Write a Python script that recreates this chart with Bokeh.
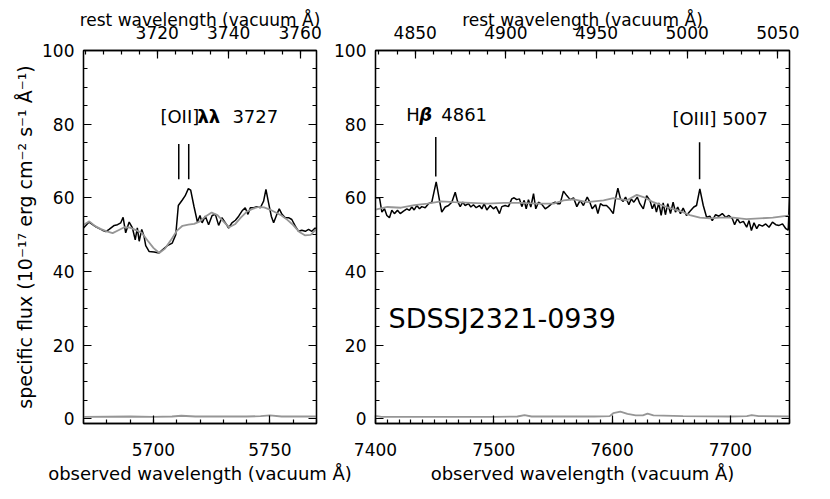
from bokeh.plotting import figure
from bokeh.models import Range1d, LinearAxis, FixedTicker
from bokeh.layouts import row
from bokeh.embed import file_html
from bokeh.resources import INLINE
from bokeh.core.properties import value

ONE_PLUS_Z = 1.5327

# ---------------- left panel: [OII] region ----------------
oii_wave = [5670.0, 5672.4, 5673.8, 5675.3, 5678.1, 5679.6, 5681.0, 5683.2, 5684.6, 5686.0,
            5687.0, 5688.1, 5689.6, 5691.0, 5692.2, 5693.1, 5693.9, 5695.0, 5696.0, 5696.7,
            5698.2, 5700.3, 5702.4, 5703.9, 5706.0, 5708.1, 5709.6, 5710.7, 5712.4, 5713.6,
            5715.0, 5716.0, 5717.4, 5718.9, 5720.0, 5720.9, 5722.3, 5723.7, 5725.2, 5726.6,
            5728.0, 5729.4, 5730.9, 5732.3, 5733.7, 5735.2, 5736.6, 5738.0, 5739.4, 5740.6,
            5741.6, 5743.0, 5744.5, 5745.9, 5747.3, 5748.3, 5749.4, 5750.6, 5751.6, 5753.0,
            5754.0, 5755.2, 5756.6, 5758.0, 5759.4, 5760.9, 5762.3, 5763.7, 5765.2, 5766.6,
            5768.0, 5769.4, 5770.0]
oii_flux = [51.8, 53.4, 52.8, 52.1, 51.2, 50.8, 51.4, 52.5, 52.7, 53.2,
            54.7, 50.5, 53.4, 51.8, 48.6, 51.8, 48.2, 51.4, 49.5, 47.0,
            45.4, 45.3, 45.0, 45.9, 47.0, 47.7, 50.0, 57.9, 59.4, 60.5,
            62.5, 62.1, 57.7, 53.4, 55.2, 53.2, 55.0, 52.7, 55.2, 55.5,
            52.5, 54.6, 53.2, 51.8, 53.2, 53.9, 55.0, 56.4, 57.3, 55.5,
            57.3, 57.3, 57.6, 57.3, 59.1, 62.3, 58.7, 55.0, 53.2, 55.5,
            57.0, 55.5, 54.6, 54.6, 54.1, 52.3, 50.9, 51.2, 50.9, 51.4,
            50.9, 51.8, 51.5]
oii_model_wave = [5670.0, 5672.5, 5675.0, 5677.5, 5680.0, 5682.5, 5685.0, 5687.5, 5690.0, 5692.5,
                  5695.0, 5697.5, 5700.0, 5702.5, 5705.0, 5707.5, 5710.0, 5712.5, 5715.0, 5717.5,
                  5720.0, 5722.5, 5725.0, 5727.5, 5730.0, 5732.5, 5735.0, 5737.5, 5740.0, 5742.5,
                  5745.0, 5747.5, 5750.0, 5752.5, 5755.0, 5757.5, 5760.0, 5762.5, 5765.0, 5767.5,
                  5770.0]
oii_model = [52.6, 53.6, 52.3, 51.5, 50.9, 50.4, 51.2, 52.0, 51.9, 51.2,
             50.5, 48.4, 46.4, 45.0, 46.2, 48.5, 51.0, 52.4, 52.7, 52.9,
             53.6, 55.0, 56.0, 55.3, 53.6, 52.0, 52.8, 54.6, 56.2, 57.0,
             57.5, 57.4, 56.8, 56.0, 55.2, 54.0, 52.6, 50.8, 49.8, 49.9,
             51.5]
oii_err_wave = [5670, 5690, 5700, 5708, 5712, 5718, 5740, 5746, 5750, 5755, 5770]
oii_err = [0.5, 0.6, 0.5, 0.6, 0.8, 0.6, 0.6, 0.7, 0.9, 0.6, 0.6]

# ---------------- right panel: Hbeta / [OIII] region ----------------
hb_wave = [7399.7, 7403.4, 7405.4, 7407.6, 7409.6, 7411.8, 7413.8, 7416.0, 7418.6, 7420.9,
           7423.7, 7426.5, 7428.7, 7430.7, 7432.7, 7434.9, 7437.2, 7439.1, 7442.0, 7444.8,
           7447.6, 7451.3, 7454.1, 7456.0, 7458.9, 7461.7, 7464.5, 7467.4, 7469.3, 7471.6,
           7473.8, 7475.8, 7478.6, 7480.6, 7482.8, 7485.1, 7487.9, 7489.9, 7491.9, 7494.1,
           7497.0, 7499.7, 7502.0, 7504.8, 7506.8, 7509.6, 7512.4, 7515.2, 7517.2, 7519.4,
           7521.7, 7523.7, 7525.7, 7527.4, 7529.3, 7531.3, 7533.6, 7535.5, 7537.8, 7540.6,
           7543.5, 7546.2, 7549.0, 7551.9, 7553.8, 7556.1, 7558.9, 7561.7, 7564.6, 7567.4,
           7570.2, 7573.0, 7575.8, 7579.0, 7581.2, 7583.2, 7586.0, 7588.0, 7590.2, 7592.5,
           7595.3, 7598.1, 7601.0, 7602.9, 7604.9, 7607.1, 7609.4, 7611.4, 7614.2, 7616.2,
           7618.4, 7621.3, 7623.5, 7626.4, 7629.2, 7632.0, 7634.0, 7635.8, 7637.5, 7639.5,
           7641.5, 7643.2, 7645.1, 7647.1, 7649.4, 7651.6, 7653.6, 7655.5, 7657.8, 7660.1,
           7662.9, 7665.7, 7669.1, 7671.4, 7674.2, 7677.1, 7679.9, 7682.7, 7684.7, 7687.5,
           7690.3, 7693.2, 7696.0, 7698.8, 7701.7, 7703.6, 7705.9, 7708.1, 7711.0, 7713.8,
           7715.8, 7717.8, 7720.0, 7722.3, 7724.2, 7727.1, 7729.9, 7732.7, 7735.6, 7738.4,
           7741.2, 7744.1, 7746.9, 7748.9, 7750.0]
hb_flux = [60.0, 60.0, 56.1, 57.0, 55.2, 54.6, 56.6, 55.7, 56.6, 55.7,
           56.4, 57.0, 56.6, 57.5, 56.7, 57.9, 57.0, 57.6, 57.3, 58.4,
           58.8, 64.3, 59.3, 56.1, 57.5, 57.9, 58.8, 61.5, 59.1, 57.6,
           58.8, 57.9, 58.4, 57.5, 58.1, 57.3, 57.9, 57.0, 58.4, 56.7,
           57.9, 57.0, 57.6, 55.7, 57.6, 57.9, 57.6, 59.7, 60.0, 59.5,
           59.7, 57.6, 59.3, 57.0, 59.5, 57.5, 61.1, 57.0, 58.8, 58.2,
           57.0, 57.6, 58.4, 58.8, 58.4, 58.4, 61.8, 60.6, 59.5, 60.0,
           57.6, 59.3, 57.9, 60.2, 58.8, 57.0, 58.1, 55.7, 58.4, 57.9,
           57.9, 57.0, 55.7, 59.7, 62.6, 59.7, 59.0, 60.2, 58.1, 59.7,
           58.8, 60.2, 58.4, 57.0, 60.6, 59.3, 57.0, 58.4, 56.1, 58.6,
           55.2, 58.6, 55.4, 58.4, 55.7, 58.8, 56.1, 57.5, 55.7, 57.2,
           55.2, 56.3, 57.5, 57.9, 62.4, 57.9, 54.7, 55.0, 53.8, 55.4,
           55.0, 55.7, 54.7, 55.2, 54.3, 52.7, 54.3, 53.2, 53.6, 52.0,
           53.8, 51.1, 53.2, 51.6, 52.7, 52.3, 52.9, 52.0, 53.4, 52.7,
           52.5, 52.9, 51.6, 51.2, 60.0]
hb_model_wave = [7400.0, 7410.0, 7421.6, 7432.8, 7444.0, 7455.3, 7466.5, 7480.6, 7494.6, 7508.6,
                 7522.6, 7536.7, 7550.7, 7559.0, 7567.6, 7578.8, 7592.8, 7601.2, 7612.5, 7620.9,
                 7626.5, 7634.9, 7646.1, 7657.4, 7665.8, 7674.2, 7682.6, 7691.0, 7702.3, 7713.5,
                 7724.7, 7735.9, 7747.2, 7750.0]
hb_model = [56.8, 57.5, 57.3, 58.0, 58.4, 59.0, 58.8, 58.6, 58.4, 58.6,
            58.6, 58.4, 58.4, 59.3, 59.6, 58.8, 59.3, 59.9, 59.3, 60.8,
            60.2, 58.8, 57.5, 56.4, 55.3, 54.6, 54.4, 54.6, 54.6, 54.2,
            54.4, 54.6, 55.1, 55.2]
hb_err_wave = [7400, 7405, 7450, 7500, 7520, 7526, 7532, 7560, 7585, 7598, 7601, 7607,
               7613, 7620, 7626, 7630, 7635, 7660, 7700, 7714, 7718, 7724, 7750]
hb_err = [0.8, 0.5, 0.5, 0.5, 0.6, 1.0, 0.6, 0.6, 0.6, 0.7, 1.5, 1.9,
          1.3, 0.9, 0.9, 1.4, 0.9, 0.7, 0.6, 0.7, 1.0, 0.7, 0.6]

# ---------------- annotations ----------------
oii_rest = [3726.03, 3728.82]
hb_rest = [4861.33]
oiii_rest = [5006.84]
mark_lo = [65.0, 65.8, 65.0]
mark_hi = [74.6, 76.5, 75.1]
# label pieces: (text, pixel offset from label start, font style)
oii_label = [("[OII]", 0, "normal"), ("λλ", 37, "bold"), ("3727", 72, "normal")]
hb_label = [("H", 0, "normal"), ("β", 13, "bold italic"), ("4861", 35, "normal")]
oiii_label = [("[OIII] 5007", 0, "normal")]
label_x = [5703.0, 7426.0, 7651.0]
label_y = [82.0, 82.6, 81.6]
object_name = "SDSSJ2321-0939"
object_x = 7411.0
object_y = 27.3

# ticks
left_xticks = [5700, 5750]
left_xminor = [5670, 5680, 5690, 5700, 5710, 5720, 5730, 5740, 5750, 5760, 5770]
left_rest_ticks = [3720, 3740, 3760]
left_rest_minor = [3700, 3705, 3710, 3715, 3720, 3725, 3730, 3735, 3740, 3745, 3750, 3755, 3760]
right_xticks = [7400, 7500, 7600, 7700]
right_xminor = [7400 + 10 * i for i in range(36)]
right_rest_ticks = [4850, 4900, 4950, 5000, 5050]
right_rest_minor = [4830 + 10 * i for i in range(23)]
yticks = [0, 20, 40, 60, 80, 100]
yminor = [5 * i for i in range(21)]

FONT = "DejaVu Sans"
BLACK = "black"
GRAY = "#969696"


def style(ax, show_labels=True):
    ax.major_tick_in = 8
    ax.major_tick_out = 0
    ax.minor_tick_in = 4
    ax.minor_tick_out = 0
    ax.axis_line_color = BLACK
    ax.axis_line_width = 1.3
    ax.major_tick_line_color = BLACK
    ax.minor_tick_line_color = BLACK
    ax.major_tick_line_width = 1.2
    ax.minor_tick_line_width = 1.2
    ax.major_label_text_font = FONT
    ax.major_label_text_color = BLACK
    ax.major_label_text_font_size = "17px"
    if not show_labels:
        ax.major_label_overrides = {t: "" for t in yticks}
    ax.axis_label_text_font = FONT
    ax.axis_label_text_font_size = "18px"
    ax.axis_label_text_font_style = "normal"
    ax.axis_label_text_color = BLACK


def make_panel(xr, xt, xm, rt, rm, fw, bl, br, ylabel, transparent=False):
    p = figure(x_range=Range1d(*xr), y_range=Range1d(-1.3, 100),
               frame_width=fw, frame_height=373,
               min_border_left=bl, min_border_right=br,
               min_border_top=50, min_border_bottom=60,
               output_backend="svg", toolbar_location=None,
               background_fill_color="white",
               border_fill_color=None if transparent else "white")
    p.xgrid.visible = False
    p.ygrid.visible = False
    p.outline_line_color = BLACK
    p.outline_line_width = 1.3

    xa = p.xaxis[0]
    xa.ticker = FixedTicker(ticks=xt, minor_ticks=xm)
    xa.axis_label = "observed wavelength (vacuum Å)"
    style(xa)
    xa.major_label_standoff = 19
    xa.axis_label_standoff = 4

    ya = p.yaxis[0]
    ya.ticker = FixedTicker(ticks=yticks, minor_ticks=yminor)
    style(ya)
    ya.major_label_standoff = 9
    if ylabel:
        ya.axis_label = ylabel
        ya.axis_label_text_font_size = "19px"
        ya.axis_label_standoff = 3

    yr = LinearAxis(ticker=FixedTicker(ticks=yticks, minor_ticks=yminor))
    style(yr, show_labels=False)
    yr.major_label_standoff = 0
    p.add_layout(yr, "right")

    p.extra_x_ranges = {"rest": Range1d(xr[0] / ONE_PLUS_Z, xr[1] / ONE_PLUS_Z)}
    top = LinearAxis(x_range_name="rest", ticker=FixedTicker(ticks=rt, minor_ticks=rm),
                     axis_label="rest wavelength (vacuum Å)")
    style(top)
    top.axis_label_text_font_size = "17px"
    top.major_label_standoff = 12
    top.axis_label_standoff = -7
    p.add_layout(top, "above")
    return p


def add_label(p, pieces, x, y):
    for txt, off, style_name in pieces:
        p.text(x=[x], y=[y], text=[txt], x_offset=off,
               text_font=value(FONT), text_font_size=value("18px"),
               text_font_style=style_name,
               text_align="left", text_baseline="alphabetic", text_color=BLACK)


left = make_panel((5670, 5770), left_xticks, left_xminor, left_rest_ticks, left_rest_minor,
                  233, 83, 40,
                  "specific flux (10⁻¹⁷ erg cm⁻² s⁻¹ Å⁻¹)")
right = make_panel((7400, 7750), right_xticks, right_xminor, right_rest_ticks, right_rest_minor,
                   414, 49, 20, None, transparent=True)
right.margin = (0, 0, 0, -30)

# left panel lines
left.line(oii_wave, oii_flux, line_color=BLACK, line_width=1.5)
left.line(oii_model_wave, oii_model, line_color=GRAY, line_width=1.8)
left.line(oii_err_wave, oii_err, line_color=GRAY, line_width=1.8)
oii_obs = [w * ONE_PLUS_Z for w in oii_rest]
left.segment(x0=oii_obs, y0=[mark_lo[0]] * 2, x1=oii_obs, y1=[mark_hi[0]] * 2,
             line_color=BLACK, line_width=1.5)
add_label(left, oii_label, label_x[0], label_y[0])

# right panel lines
right.line(hb_wave, hb_flux, line_color=BLACK, line_width=1.5)
right.line(hb_model_wave, hb_model, line_color=GRAY, line_width=1.8)
right.line(hb_err_wave, hb_err, line_color=GRAY, line_width=1.8)
r_obs = [hb_rest[0] * ONE_PLUS_Z, oiii_rest[0] * ONE_PLUS_Z]
right.segment(x0=r_obs, y0=mark_lo[1:], x1=r_obs, y1=mark_hi[1:],
              line_color=BLACK, line_width=1.5)
add_label(right, hb_label, label_x[1], label_y[1])
add_label(right, oiii_label, label_x[2], label_y[2])
right.text(x=[object_x], y=[object_y], text=[object_name],
           text_font=value(FONT), text_font_size=value("27px"),
           text_align="left", text_baseline="alphabetic", text_color=BLACK)

layout = row(left, right)
open("out.html", "w").write(file_html(layout, INLINE))
